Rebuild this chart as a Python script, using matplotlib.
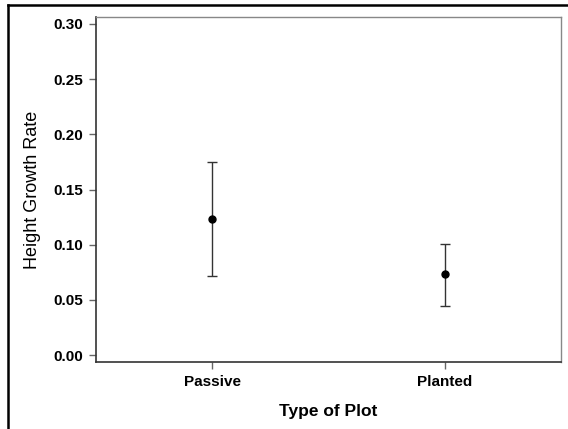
#!/usr/bin/env python3
# height growth rate by plot type, mean with interval

import matplotlib
matplotlib.use("Agg")
import matplotlib.pyplot as plt
from matplotlib.lines import Line2D

plt.rcParams['font.family'] = ['Liberation Sans', 'DejaVu Sans']

plot_types = ["Passive", "Planted"]
growth_mean = [0.123, 0.073]
growth_low = [0.0713, 0.0447]
growth_high = [0.1747, 0.1006]
y_ticks = [0.00, 0.05, 0.10, 0.15, 0.20, 0.25, 0.30]

pos = list(range(len(plot_types)))
err_lo = [m - l for m, l in zip(growth_mean, growth_low)]
err_hi = [h - m for m, h in zip(growth_mean, growth_high)]

fig = plt.figure(figsize=(5.68, 4.29), dpi=100)
ax1 = fig.add_axes([96 / 568, 67 / 429, (561 - 96) / 568, (362 - 17) / 429])

ax1.errorbar(pos, growth_mean, yerr=[err_lo, err_hi], fmt='o', color='black',
             ecolor='#333333', elinewidth=1, capsize=3.6, capthick=1,
             markersize=5)

ax1.set_xlim(-0.5, 1.5)
ax1.set_ylim(-0.0063, 0.3063)
ax1.set_xticks(pos)
ax1.set_xticklabels(plot_types, fontsize=11, fontweight='bold')
ax1.set_yticks(y_ticks)
ax1.set_yticklabels(["{:.2f}".format(v) for v in y_ticks], fontsize=11,
                    fontweight='bold')
ax1.tick_params(direction='out', length=5, width=1, color='#666666', pad=4.5)

for side in ['left', 'bottom']:
    ax1.spines[side].set_color('#333333')
    ax1.spines[side].set_linewidth(1.2)
for side in ['top', 'right']:
    ax1.spines[side].set_color('#888888')
    ax1.spines[side].set_linewidth(1)

ax1.set_xlabel("Type of Plot", fontsize=12.5, fontweight='bold', labelpad=11)
ax1.set_ylabel("Height Growth Rate", fontsize=13, fontweight='medium',
               labelpad=9)

# partial frame around the figure (top and left edges)
fig.add_artist(Line2D([8 / 568, 1.0], [1 - 5 / 429, 1 - 5 / 429],
                      transform=fig.transFigure, color='black', linewidth=1.8))
fig.add_artist(Line2D([8 / 568, 8 / 568], [0.0, 1 - 5 / 429],
                      transform=fig.transFigure, color='black', linewidth=1.8))

fig.savefig("out.png", dpi=100)
